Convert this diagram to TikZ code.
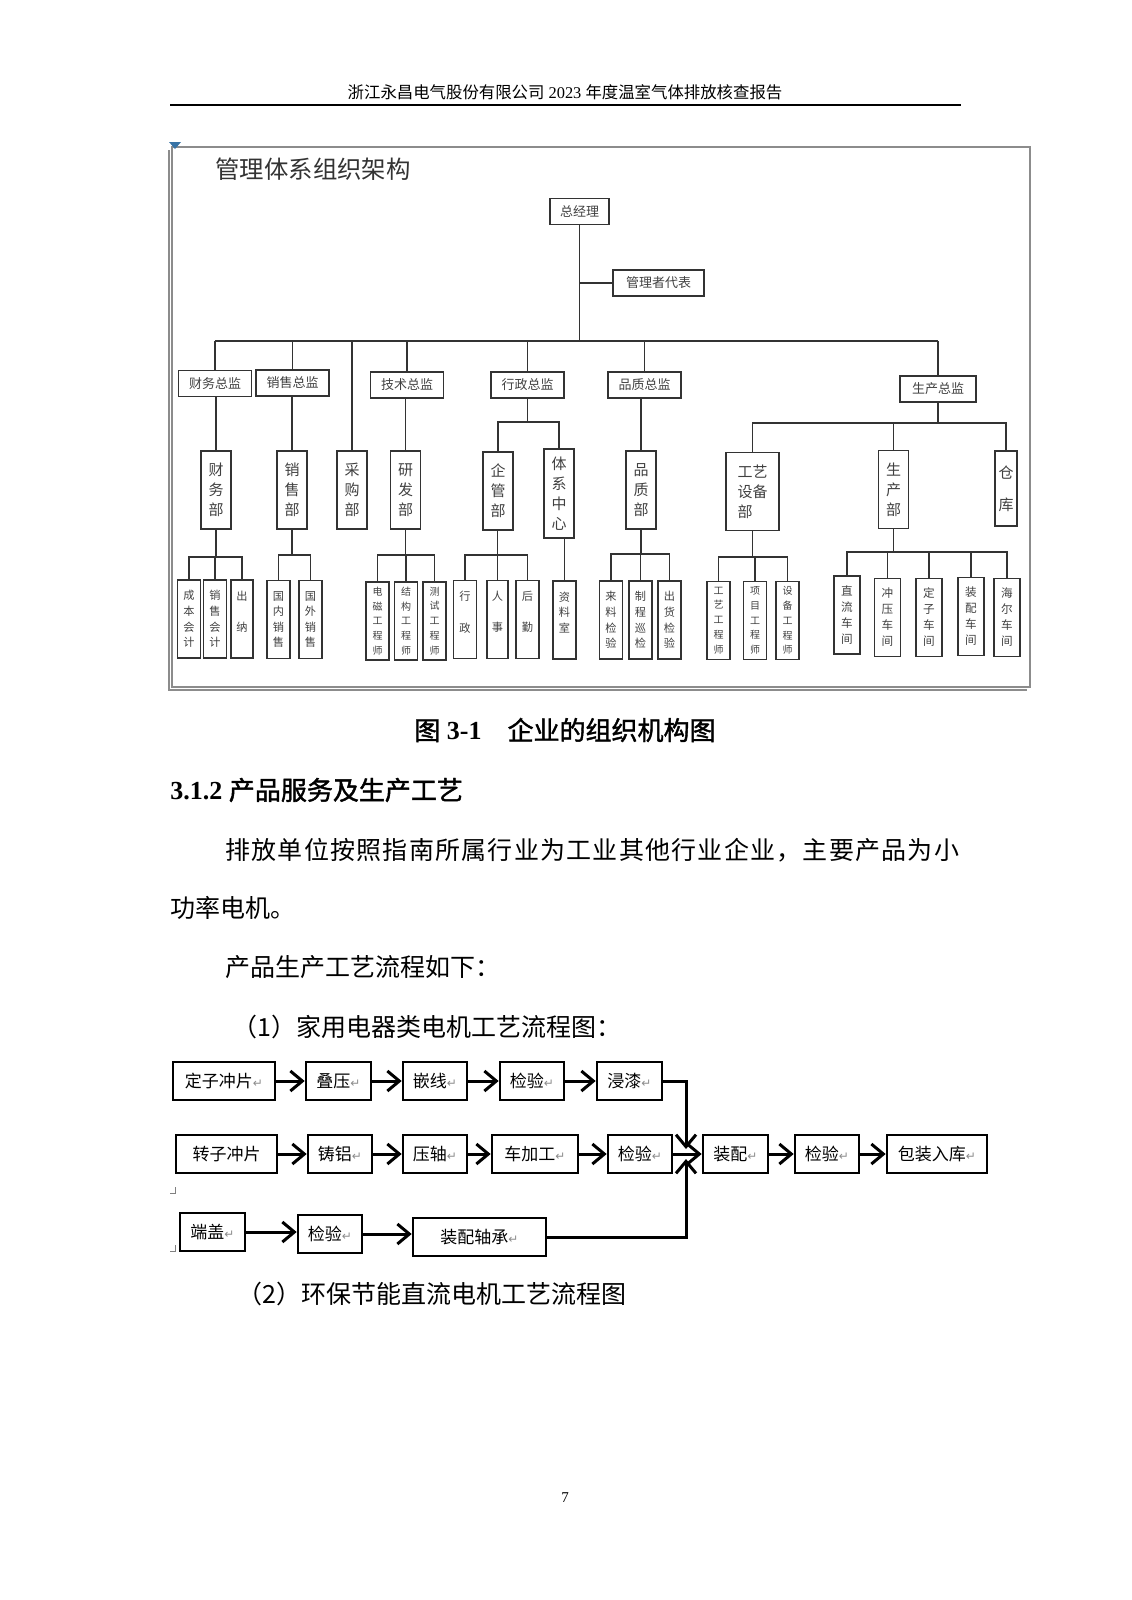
\documentclass[tikz,border=0pt]{standalone}
\usepackage{fontspec}
\setmainfont{Liberation Serif}
\newfontfamily\cjk{Noto Sans CJK SC}
\newfontfamily\cjkbf[FakeBold=1.6]{Noto Sans CJK SC}
\newfontfamily\symfont{DejaVu Sans}
\usepackage{tikz}
\usetikzlibrary{arrows.meta,positioning}

\definecolor{framegray}{gray}{0.55}
\definecolor{anchorblue}{RGB}{55,115,165}
\newcommand\retmark{\textcolor{black!45}{\symfont\fontsize{6}{6}\selectfont ↵}}

\tikzset{
  orgbox/.style={draw=black!80, line width=0.8pt, inner sep=0pt, text=black!75,
    font=\cjk\fontsize{6.5}{8}\selectfont},
  lead/.style={orgbox, minimum width=36.5pt, minimum height=13pt},
  dept/.style={orgbox, minimum width=15pt, minimum height=39pt, align=center,
    font=\cjk\fontsize{7.5}{9.9}\selectfont},
  staff/.style={orgbox, minimum width=11.5pt, minimum height=39pt, align=center,
    font=\cjk\fontsize{5.6}{7.8}\selectfont},
  eng/.style={staff, font=\cjk\fontsize{5}{7.4}\selectfont},
  shop/.style={staff, minimum width=13pt, font=\cjk\fontsize{5.8}{8}\selectfont},
  orgline/.style={draw=black!80, line width=0.8pt},
  stepbox/.style={draw, line width=1.3pt, inner sep=0pt, minimum height=19pt,
    font=\cjk\fontsize{8.5}{10}\selectfont},
  flowarrow/.style={line width=1.5pt, -{Straight Barb[length=6pt,width=10pt]}},
  bodytext/.style={anchor=west, inner sep=0pt, font=\cjk\fontsize{12.5}{15}\selectfont},
}

\begin{document}
\begin{tikzpicture}[x=0.5pt,y=-0.5pt]
\useasboundingbox (0,0) rectangle (1131,1600);

% page header
\node[font=\fontsize{8.2}{10}\selectfont, inner sep=0pt] (header) at (565,92)
  {{\cjk 浙江永昌电气股份有限公司} 2023 {\cjk 年度温室气体排放核查报告}};
\draw[line width=0.8pt] (170,105) -- (961,105);

% frame of the org chart
\draw[framegray, line width=0.7pt] (172,147) rectangle (1030,687);
\draw[framegray, line width=0.7pt] (169,150) -- (169,690) -- (1027,690);
\fill[anchorblue] (169,142) -- (181,142) -- (175,149) -- cycle;
\node[anchor=west, inner sep=0pt, text=black!80, font=\cjk\fontsize{12.2}{14}\selectfont]
  (title) at (215,169) {管理体系组织架构};

% top
\node[lead, minimum width=29.5pt] (zjl) at (579.5,211.5) {总经理};
\node[lead, minimum width=45.5pt] (glz) at (658.5,283) {管理者代表};

% directors
\node[lead] (cwzj) at (215,383.5) {财务总监};
\node[lead] (xszj) at (292.5,383) {销售总监};
\node[lead] (jszj) at (407,385) {技术总监};
\node[lead] (xzzj) at (527.5,385) {行政总监};
\node[lead] (pzzj) at (644.5,385) {品质总监};
\node[lead, minimum width=38pt] (sczj) at (938,389) {生产总监};

% departments
\node[dept] (cwb) at (216,490) {财\\务\\部};
\node[dept] (xsb) at (292,490) {销\\售\\部};
\node[dept] (cgb) at (352,490) {采\\购\\部};
\node[dept] (yfb) at (405.5,490) {研\\发\\部};
\node[dept] (qgb) at (498,491) {企\\管\\部};
\node[dept, minimum height=44.5pt] (txzx) at (559,493.5) {体\\系\\中\\心};
\node[dept] (pzb) at (641,490) {品\\质\\部};
\node[dept, minimum width=26.5pt, align=left] (gysb) at (752.5,491.5) {工艺\\设备\\部};
\node[dept] (scb) at (893.5,489.5) {生\\产\\部};
\node[dept, minimum width=11pt, minimum height=37.5pt] (ck) at (1006,488.5) {仓\\[6pt]库};

% staff
\node[staff] (cbkj) at (189,619) {成\\本\\会\\计};
\node[staff] (xskj) at (215,619) {销\\售\\会\\计};
\node[staff, minimum width=11pt] (cn) at (242,619) {出\\~\\纳\\~};
\node[staff] (gnxs) at (278.5,619.5) {国\\内\\销\\售};
\node[staff] (gwxs) at (310.5,619.5) {国\\外\\销\\售};
\node[eng] (dcgcs) at (377.5,621) {电\\磁\\工\\程\\师};
\node[eng] (jggcs) at (406,621) {结\\构\\工\\程\\师};
\node[eng] (csgcs) at (434.5,621) {测\\试\\工\\程\\师};
\node[staff] (xz) at (465,619.5) {行\\~\\政\\~};
\node[staff, minimum width=10.5pt] (rs) at (497.5,619.5) {人\\~\\事\\~};
\node[staff] (hq) at (527.5,619.5) {后\\~\\勤\\~};
\node[staff] (zls) at (564.5,620) {资\\料\\室\\~};
\node[staff] (lljy) at (611,620) {来\\料\\检\\验};
\node[staff] (zcxj) at (640.5,620) {制\\程\\巡\\检};
\node[staff] (chjy) at (669.5,620) {出\\货\\检\\验};
\node[eng] (gygcs) at (718.5,620.5) {工\\艺\\工\\程\\师};
\node[eng] (xmgcs) at (755,620.5) {项\\目\\工\\程\\师};
\node[eng] (sbgcs) at (787.5,620.5) {设\\备\\工\\程\\师};
\node[shop] (zlcj) at (847,615) {直\\流\\车\\间};
\node[shop] (cycj) at (887.5,617.5) {冲\\压\\车\\间};
\node[shop] (dzcj) at (929,617.5) {定\\子\\车\\间};
\node[shop] (zpcj) at (971,616.5) {装\\配\\车\\间};
\node[shop] (hecj) at (1007,617.5) {海\\尔\\车\\间};

% org connectors
\coordinate (bus) at (580,341);
\draw[orgline] (zjl.south) -- (zjl.south |- bus);
\draw[orgline] (zjl.south |- glz.west) -- (glz.west);
\draw[orgline] (cwzj.north |- bus) -- (sczj.north |- bus);
\foreach \n in {cwzj,xszj,jszj,xzzj,pzzj,sczj,cgb}
  \draw[orgline] (\n.north) -- (\n.north |- bus);
\foreach \a/\b in {cwzj/cwb,xszj/xsb,jszj/yfb}
  \draw[orgline] (\b.north |- \a.south) -- (\b.north);
\draw[orgline, line width=1.4pt] (pzb.north |- pzzj.south) -- (pzb.north);

\coordinate (xzbus) at (528,422);
\draw[orgline] (xzzj.south) -- (xzzj.south |- xzbus);
\draw[orgline] (qgb.north) |- (txzx.north |- xzbus) -- (txzx.north);

\coordinate (scbus) at (938,423);
\draw[orgline] (sczj.south) -- (sczj.south |- scbus);
\draw[orgline] (gysb.north) |- (ck.north |- scbus) -- (ck.north);
\draw[orgline] (scb.north) -- (scb.north |- scbus);

\coordinate (cwbus) at (216,557);
\draw[orgline] (cwb.south) -- (cwb.south |- cwbus);
\draw[orgline] (cbkj.north) |- (cn.north |- cwbus) -- (cn.north);
\draw[orgline] (xskj.north) -- (xskj.north |- cwbus);

\coordinate (xsbus) at (292,555);
\draw[orgline] (xsb.south) -- (xsb.south |- xsbus);
\draw[orgline] (gnxs.north) |- (gwxs.north |- xsbus) -- (gwxs.north);

\coordinate (yfbus) at (406,555);
\draw[orgline] (yfb.south) -- (yfb.south |- yfbus);
\draw[orgline] (dcgcs.north) |- (csgcs.north |- yfbus) -- (csgcs.north);
\draw[orgline] (jggcs.north) -- (jggcs.north |- yfbus);

\coordinate (qgbus) at (498,555);
\draw[orgline] (rs.north |- qgb.south) -- (rs.north);
\draw[orgline] (xz.north) |- (hq.north |- qgbus) -- (hq.north);
\draw[orgline] (zls.north |- txzx.south) -- (zls.north);

\coordinate (pzbus) at (641,554);
\draw[orgline] (pzb.south) -- (pzb.south |- pzbus);
\draw[orgline] (lljy.north) |- (chjy.north |- pzbus) -- (chjy.north);
\draw[orgline] (zcxj.north) -- (zcxj.north |- pzbus);

\coordinate (gybus) at (752,557);
\draw[orgline] (gysb.south) -- (gysb.south |- gybus);
\draw[orgline] (gygcs.north) |- (sbgcs.north |- gybus) -- (sbgcs.north);
\draw[orgline] (xmgcs.north) -- (xmgcs.north |- gybus);

\coordinate (scbus2) at (894,552);
\draw[orgline] (scb.south) -- (scb.south |- scbus2);
\draw[orgline] (zlcj.north) |- (hecj.north |- scbus2) -- (hecj.north);
\foreach \n in {cycj,dzcj,zpcj}
  \draw[orgline] (\n.north) -- (\n.north |- scbus2);

% text of the page
\node[font=\fontsize{13}{15}\selectfont, inner sep=0pt] (caption) at (565,730)
  {{\cjkbf 图} \textbf{3-1}\hspace{1em}{\cjkbf 企业的组织机构图}};
\node[anchor=west, inner sep=0pt, font=\fontsize{13}{15}\selectfont] (sec) at (170,790)
  {\textbf{3.1.2} {\cjkbf 产品服务及生产工艺}};
\node[bodytext] (para1) at (225,850)
  {\addfontfeature{LetterSpace=5}排放单位按照指南所属行业为工业其他行业企业，主要产品为小};
\node[bodytext] (para2) at (170,908) {功率电机。};
\node[bodytext] (para3) at (225,967) {产品生产工艺流程如下：};
\node[bodytext] (item1) at (232,1027) {（1）家用电器类电机工艺流程图：};
\node[bodytext] (item2) at (237,1294) {（2）环保节能直流电机工艺流程图};
\node[font=\fontsize{7.5}{9}\selectfont] (pageno) at (565,1498) {7};

% flow chart
\node[stepbox, minimum width=51pt] (dzcp) at (224,1081) {定子冲片\retmark};
\node[stepbox, minimum width=32.5pt] (dy) at (338.5,1081) {叠压\retmark};
\node[stepbox, minimum width=32pt] (qx) at (435,1081) {嵌线\retmark};
\node[stepbox, minimum width=32pt] (jya) at (532,1081) {检验\retmark};
\node[stepbox, minimum width=32.5pt] (jq) at (629.5,1081) {浸漆\retmark};
\node[stepbox, minimum width=50.5pt] (zzcp) at (226.5,1154) {转子冲片};
\node[stepbox, minimum width=32pt] (zl) at (340,1154) {铸铝\retmark};
\node[stepbox, minimum width=32pt] (yz) at (435,1154) {压轴\retmark};
\node[stepbox, minimum width=43pt] (cjg) at (535,1154) {车加工\retmark};
\node[stepbox, minimum width=32pt] (jyb) at (640,1154) {检验\retmark};
\node[stepbox, minimum width=32.5pt] (zp) at (735.5,1154) {装配\retmark};
\node[stepbox, minimum width=32pt] (jyc) at (827,1154) {检验\retmark};
\node[stepbox, minimum width=50pt] (bzrk) at (937,1154) {包装入库\retmark};
\node[stepbox, minimum width=32.5pt] (dg) at (212.5,1232) {端盖\retmark};
\node[stepbox, minimum width=32pt] (jyd) at (330,1234) {检验\retmark};
\node[stepbox, minimum width=66.5pt] (zpzc) at (479.5,1237) {装配轴承\retmark};

\foreach \a/\b in {dzcp/dy,dy/qx,qx/jya,jya/jq,zzcp/zl,zl/yz,yz/cjg,cjg/jyb,
    jyb/zp,zp/jyc,jyc/bzrk,dg/jyd,jyd/zpzc}
  \draw[flowarrow] (\a.east) -- (\a.east -| \b.west);
\coordinate (hubt) at (686,1149);
\coordinate (hubb) at (686,1159);
\draw[flowarrow] (jq.east) -| (hubt);
\draw[flowarrow] (zpzc.east) -| (hubb);

% paragraph marks at the left
\draw[black!50, line width=0.4pt] (170,1193) -- (175,1193) -- (175,1187);
\draw[black!50, line width=0.4pt] (170,1251) -- (175,1251) -- (175,1245);
\end{tikzpicture}
\end{document}
